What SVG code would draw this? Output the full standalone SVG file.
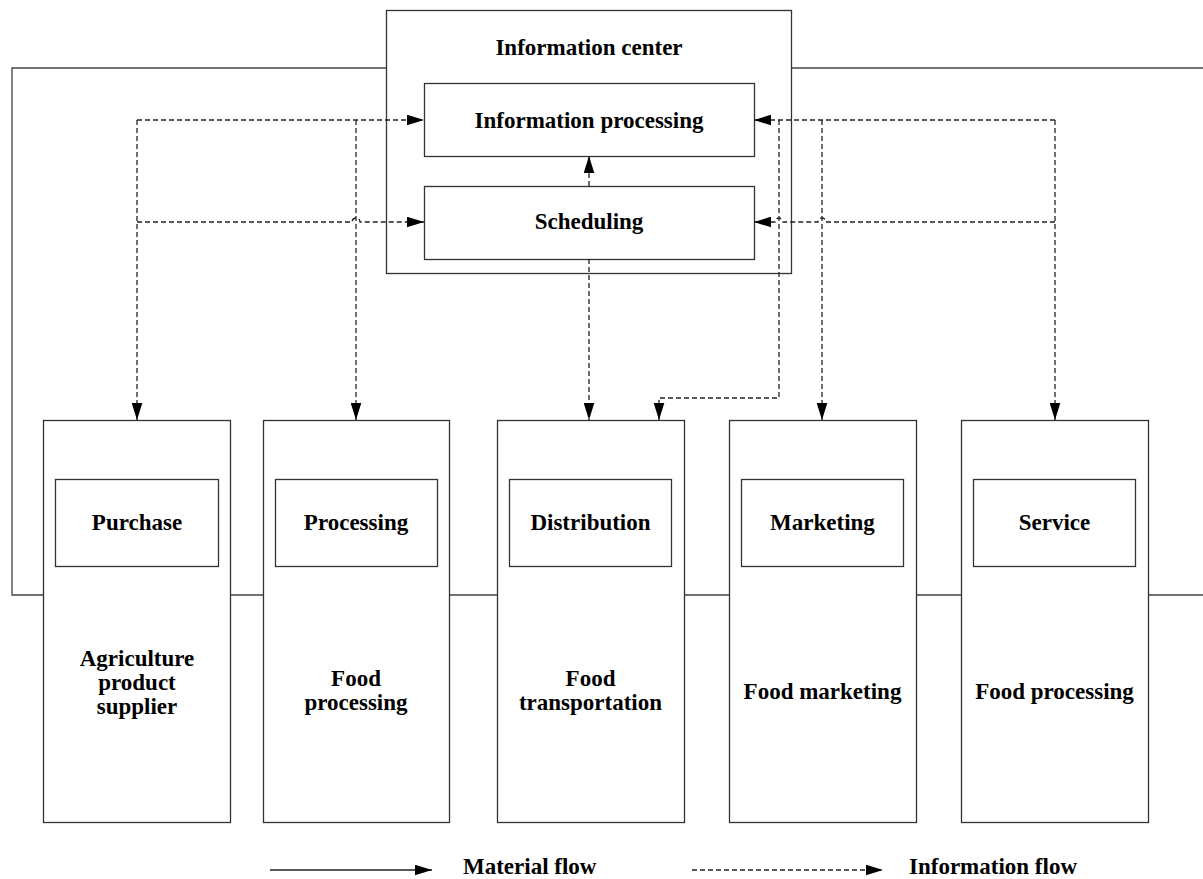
<svg xmlns="http://www.w3.org/2000/svg" width="1203" height="879" viewBox="0 0 1203 879">
<style>
.box{fill:#fff;stroke:#333;stroke-width:1.3}
.t{font-family:"Liberation Serif","Times New Roman",serif;font-weight:bold;font-size:23px;fill:#000;text-anchor:middle}
.tl{font-family:"Liberation Serif","Times New Roman",serif;font-weight:bold;font-size:23px;fill:#000}
.mat{fill:none;stroke:#444;stroke-width:1.3}
.info{fill:none;stroke:#222;stroke-width:1.3;stroke-dasharray:5 3;marker-end:url(#ah)}
</style>
<defs>
<marker id="ah" markerUnits="userSpaceOnUse" markerWidth="17" markerHeight="11" refX="16" refY="5" orient="auto" viewBox="0 0 16 10">
<path d="M0,0 L16,5 L0,10 z" fill="#000"/>
</marker>
<marker id="ahs" markerUnits="userSpaceOnUse" markerWidth="17" markerHeight="11" refX="16" refY="5" orient="auto" viewBox="0 0 16 10">
<path d="M0,0 L16,5 L0,10 z" fill="#000"/>
</marker>
</defs>
<rect width="1203" height="879" fill="#fff"/>

<g id="material-flow">
<path class="mat" d="M386,68 H12 V595 H43"/>
<path class="mat" d="M791,68 H1203"/>
<path class="mat" d="M230,595 H263 M449,595 H497 M684,595 H729 M916,595 H961 M1148,595 H1203"/>
</g>

<g id="information-center">
<rect class="box" x="386.5" y="10.5" width="405" height="263"/>
<text class="t" x="589" y="55">Information center</text>
</g>
<g id="information-processing">
<rect class="box" x="424.5" y="83.5" width="330" height="73"/>
<text class="t" x="589" y="128">Information processing</text>
</g>
<g id="scheduling">
<rect class="box" x="424.5" y="186.5" width="330" height="73"/>
<text class="t" x="589" y="229">Scheduling</text>
</g>

<g id="supplier">
<rect class="box" x="43.5" y="420.5" width="187" height="402"/>
<rect class="box" x="55.5" y="479.5" width="163" height="87"/>
<text class="t" x="137" y="530">Purchase</text>
<text class="t" x="137" y="666">Agriculture</text>
<text class="t" x="137" y="690">product</text>
<text class="t" x="137" y="714">supplier</text>
</g>
<g id="food-processing">
<rect class="box" x="263.5" y="420.5" width="186" height="402"/>
<rect class="box" x="275.5" y="479.5" width="162" height="87"/>
<text class="t" x="356" y="530">Processing</text>
<text class="t" x="356" y="686">Food</text>
<text class="t" x="356" y="710">processing</text>
</g>
<g id="food-transportation">
<rect class="box" x="497.5" y="420.5" width="187" height="402"/>
<rect class="box" x="509.5" y="479.5" width="162" height="87"/>
<text class="t" x="590.5" y="530">Distribution</text>
<text class="t" x="590.5" y="686">Food</text>
<text class="t" x="590.5" y="710">transportation</text>
</g>
<g id="food-marketing">
<rect class="box" x="729.5" y="420.5" width="187" height="402"/>
<rect class="box" x="741.5" y="479.5" width="162" height="87"/>
<text class="t" x="822.5" y="530">Marketing</text>
<text class="t" x="822.5" y="699">Food marketing</text>
</g>
<g id="food-service">
<rect class="box" x="961.5" y="420.5" width="187" height="402"/>
<rect class="box" x="973.5" y="479.5" width="162" height="87"/>
<text class="t" x="1054.5" y="530">Service</text>
<text class="t" x="1054.5" y="699">Food processing</text>
</g>

<g id="connectors">
<path class="info" d="M137,120 H424"/>
<path class="info" d="M137,120 V420"/>
<path class="info" d="M137,222 H352 A4,4 0 0 1 360,222 H424"/>
<path class="info" d="M356,120 V420"/>
<path class="info" d="M589,186 V156"/>
<path class="info" d="M589,259 V420"/>
<path class="info" d="M779,120 V398 H659 V420"/>
<path class="info" d="M1055,120 H754"/>
<path class="info" d="M1055,120 V420"/>
<path class="info" d="M822,120 V420"/>
<path class="info" d="M1055,222 H826 A4,4 0 0 0 818,222 H783 A4,4 0 0 0 775,222 H754"/>
</g>

<g id="legend">
<path d="M270,870 H432" fill="none" stroke="#222" stroke-width="1.3" marker-end="url(#ahs)"/>
<text class="tl" x="463" y="874">Material flow</text>
<path class="info" d="M692,870 H883"/>
<text class="tl" x="909" y="874">Information flow</text>
</g>
</svg>
